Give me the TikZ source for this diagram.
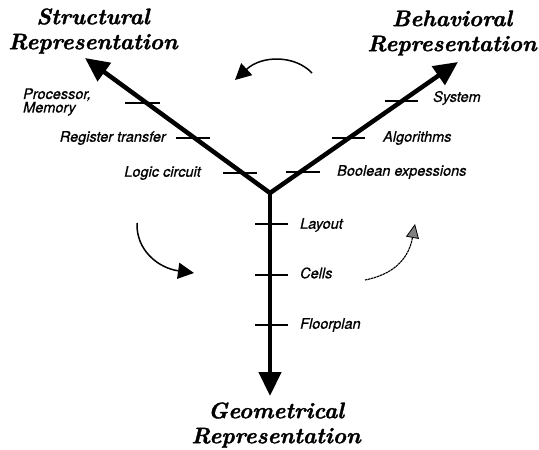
\documentclass[tikz,border=0pt]{standalone}
\usepackage{fontspec}
\setsansfont{TeX Gyre Heros}[ItalicFeatures={FakeBold=0.8}]
\newfontfamily\ttlfont{Latin Modern Roman}[BoldItalicFeatures={FakeBold=1.5}]
\usetikzlibrary{arrows.meta}
\begin{document}
\begin{tikzpicture}[x=1pt,y=-1pt,
  axis/.style={line width=4.5pt,-{Triangle[length=24pt,width=22pt]}},
  tick/.style={line width=1.3pt},
  lbl/.style={font=\sffamily\itshape\fontsize{14.5}{13.5}\selectfont,inner sep=0pt},
  ttl/.style={font=\ttlfont\bfseries\itshape\fontsize{22.5}{25}\selectfont,align=center,inner sep=0pt},
  rot/.style={line width=1.5pt,-{Triangle[length=16pt,width=16pt]}}]
\useasboundingbox (0,0) rectangle (539,450);
\coordinate (c) at (270,193);
\coordinate (s) at (85,58);
\coordinate (b) at (458,62);
\coordinate (g) at (270,396);
\draw[axis] (c) -- (s);
\draw[axis] (c) -- (b);
\draw[axis] (c) -- (g);
% ticks structural
\coordinate (t1a) at (125,103); \coordinate (t1b) at (160,103);
\coordinate (t2a) at (176,138); \coordinate (t2b) at (210,138);
\coordinate (t3a) at (223,173); \coordinate (t3b) at (257,173);
\draw[tick] (t1a) -- (t1b); \draw[tick] (t2a) -- (t2b); \draw[tick] (t3a) -- (t3b);
% ticks behavioral
\coordinate (u1a) at (385,101); \coordinate (u1b) at (418,101);
\coordinate (u2a) at (332,138); \coordinate (u2b) at (365,138);
\coordinate (u3a) at (286,172); \coordinate (u3b) at (320,172);
\draw[tick] (u1a) -- (u1b); \draw[tick] (u2a) -- (u2b); \draw[tick] (u3a) -- (u3b);
% ticks geometrical
\coordinate (v1a) at (255,224); \coordinate (v1b) at (288,224);
\coordinate (v2a) at (255,275); \coordinate (v2b) at (288,275);
\coordinate (v3a) at (255,325); \coordinate (v3b) at (288,325);
\draw[tick] (v1a) -- (v1b); \draw[tick] (v2a) -- (v2b); \draw[tick] (v3a) -- (v3b);
% labels
\node[lbl,anchor=west,align=left] (pm) at (23,102) {Processor,\\Memory};
\node[lbl,anchor=east] (rt) at (166,138) {Register transfer};
\node[lbl,anchor=east] (lc) at (201,173) {Logic circuit};
\node[lbl,anchor=west] (sy) at (433,98) {System};
\node[lbl,anchor=west] (al) at (383,138) {Algorithms};
\node[lbl,anchor=west] (be) at (337,172) {Boolean expessions};
\node[lbl,anchor=west] (la) at (300,225) {Layout};
\node[lbl,anchor=west] (ce) at (300,273) {Cells};
\node[lbl,anchor=west] (fp) at (300,325) {Floorplan};
% titles
\node[ttl] (st) at (93,31) {Structural\\Representation};
\node[ttl] (bh) at (452,33) {Behavioral\\Representation};
\node[ttl] (ge) at (276,425) {Geometrical\\Representation};
% rotation arrows
\coordinate (r1s) at (312,73); \coordinate (r1e) at (235,80);
\draw[rot] (r1s) .. controls (295,55) and (262,55) .. (r1e);
\coordinate (r2s) at (137,223); \coordinate (r2e) at (194,273);
\draw[rot] (r2s) .. controls (136,250) and (158,268) .. (r2e);
\coordinate (r3s) at (365,280); \coordinate (r3e) at (415,224);
\draw[line width=1.1pt,dash pattern=on 2.5pt off 0.6pt,-{Triangle[length=14pt,width=13pt,fill=gray,line width=0.8pt]}] (r3s) .. controls (390,275) and (408,262) .. (r3e);
\end{tikzpicture}
\end{document}
